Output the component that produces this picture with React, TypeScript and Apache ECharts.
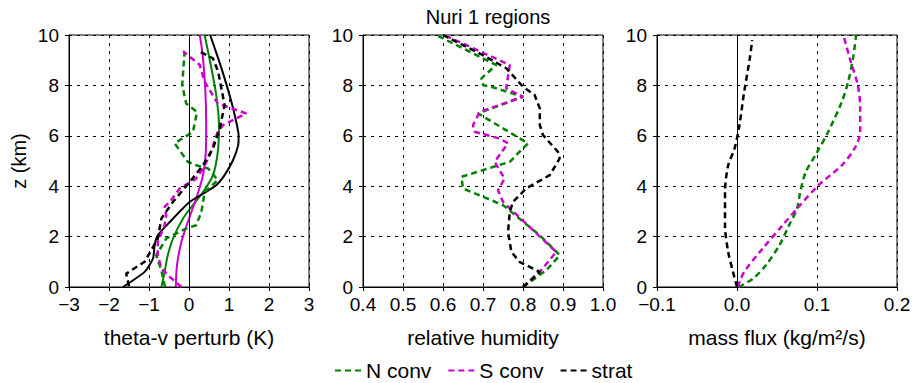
import React, { useEffect, useRef } from "react";
import * as echarts from "echarts";

// ---- Panel 1: theta-v perturbation (K) ----
const tvNSolidX = [-0.69, -0.61, -0.53, -0.4, -0.15, 0.1, 0.35, 0.6, 0.72, 0.75, 0.68, 0.56, 0.39];
const tvNSolidZ = [0, 0.6, 1.26, 1.92, 2.72, 3.25, 3.77, 4.44, 5.36, 6.42, 7.62, 8.68, 10];
const tvSSolidX = [-0.33, -0.3, -0.19, -0.03, 0.18, 0.35, 0.42, 0.43, 0.41, 0.35, 0.27];
const tvSSolidZ = [0, 0.86, 1.79, 2.58, 3.51, 4.44, 5.36, 6.42, 7.75, 9.07, 10];
const tvStratSolidX = [-1.65, -1.11, -0.9, -0.86, -0.78, -0.48, 0.02, 0.35, 0.68, 0.89, 1.1, 1.23, 1.24, 1.18, 1.06, 0.89, 0.73, 0.53];
const tvStratSolidZ = [0, 0.6, 1.13, 1.66, 2.05, 2.58, 3.38, 3.7, 4.04, 4.44, 5.03, 5.63, 6.03, 6.56, 7.35, 8.28, 9.07, 10];

const tvNX = [-0.6, -0.69, -0.82, -0.57, -0.07, 0.18, 0.31, 0.39, 0.72, 0.48, 0.18, -0.03, -0.36, 0.1, 0.2, -0.07, -0.17, -0.11];
const tvNZ = [0, 0.66, 1.26, 1.92, 2.32, 2.45, 2.98, 3.77, 4.24, 4.7, 4.83, 4.97, 5.7, 6.16, 6.95, 7.28, 8.01, 9.34];
const tvSX = [-0.19, -0.48, -0.69, -0.78, -0.78, -0.61, -0.57, -0.61, -0.48, -0.23, 0.18, 0.35, 0.52, 0.72, 0.85, 1.43, 0.72, 0.39, 0.27, -0.15];
const tvSZ = [0, 0.4, 0.73, 1.26, 1.79, 2.45, 2.85, 3.18, 3.38, 3.91, 4.3, 4.7, 5.23, 6.16, 6.42, 6.89, 7.28, 8.15, 8.81, 9.36];
const tvStratX = [-1.5, -1.57, -1.11, -0.78, -0.69, -0.4, 0.02, 0.35, 0.6, 0.77, 0.89, 0.73, 0.6, 0.27];
const tvStratZ = [0.03, 0.53, 1.0, 1.92, 2.72, 3.38, 4.17, 4.83, 5.5, 6.29, 7.22, 8.54, 9.07, 9.34];

// ---- Panel 2: relative humidity ----
const rhNX = [0.8, 0.858, 0.892, 0.842, 0.75, 0.65, 0.646, 0.767, 0.8125, 0.6875, 0.8, 0.72, 0.7, 0.696, 0.733, 0.583];
const rhNZ = [0, 0.66, 1.26, 2.05, 3.25, 3.91, 4.37, 4.97, 5.7, 6.89, 7.55, 7.95, 8.01, 8.28, 8.81, 10];
const rhSX = [0.8, 0.842, 0.883, 0.75, 0.7375, 0.754, 0.729, 0.7625, 0.742, 0.679, 0.675, 0.692, 0.8, 0.758, 0.767, 0.6125];
const rhSZ = [0, 0.6, 1.39, 3.38, 3.84, 4.3, 4.97, 5.7, 5.89, 6.16, 6.42, 6.95, 7.55, 7.88, 8.81, 9.93];
const rhStratX = [0.8, 0.842, 0.792, 0.771, 0.7625, 0.767, 0.775, 0.808, 0.867, 0.8917, 0.8875, 0.85, 0.842, 0.842, 0.829, 0.8, 0.758, 0.7, 0.6];
const rhStratZ = [0, 0.6, 0.99, 1.39, 2.19, 2.98, 3.38, 3.91, 4.44, 5.1, 5.36, 6.03, 6.42, 7.09, 7.62, 7.95, 8.68, 9.2, 10];

// ---- Panel 3: mass flux (kg/m2/s) ----
const mfNX = [0.002, 0.02, 0.036, 0.053, 0.065, 0.075, 0.079, 0.086, 0.098, 0.114, 0.131, 0.139, 0.145, 0.149];
const mfNZ = [0, 0.33, 0.86, 1.66, 2.45, 3.11, 3.77, 4.57, 5.23, 6.16, 7.35, 8.15, 9.07, 10];
const mfSX = [0.001, 0.009, 0.032, 0.057, 0.077, 0.102, 0.131, 0.147, 0.154, 0.154, 0.151, 0.141, 0.133];
const mfSZ = [0, 0.6, 1.52, 2.45, 3.18, 4.04, 4.83, 5.5, 6.16, 7.09, 8.01, 9.07, 10];
const mfStratX = [0, -0.005, -0.011, -0.015, -0.015, -0.011, -0.003, 0.003, 0.009, 0.016, 0.019];
const mfStratZ = [0, 0.6, 1.39, 2.45, 3.77, 4.83, 5.5, 6.42, 7.75, 9.07, 9.8];

const legendNames = ["N conv", "S conv", "strat"];
const titleText = "Nuri 1 regions";
const xNames = ["theta-v perturb (K)", "relative humidity", "mass flux (kg/m\u00B2/s)"];
const yName = "z (km)";

const GREEN = "#008000";
const MAGENTA = "#cc00cc";
const BLACK = "#000000";
const FONT = "'Liberation Sans', Arial, Helvetica, sans-serif";

const minus = (s: string) => s.replace("-", "\u2212");

export default function App() {
  const ref = useRef<HTMLDivElement>(null);
  useEffect(() => {
    if (!ref.current) return;
    const chart = echarts.init(ref.current, undefined, { renderer: "svg" });

    const lefts = [69, 363, 657];
    const grids = lefts.map((l) => ({
      left: l,
      top: 35,
      width: 240,
      height: 252,
      show: true,
      borderColor: BLACK,
      borderWidth: 1,
      backgroundColor: "transparent",
    }));

    const xRanges = [
      { min: -3, max: 3, interval: 1, fmt: (v: number) => minus(String(Math.round(v))) },
      { min: 0.4, max: 1.0, interval: 0.1, fmt: (v: number) => (Math.abs(v) < 1e-9 ? 0 : v).toFixed(1) },
      { min: -0.1, max: 0.2, interval: 0.1, fmt: (v: number) => minus((Math.abs(v) < 1e-9 ? 0 : v).toFixed(1)) },
    ];

    const splitLine = { show: true, lineStyle: { color: BLACK, width: 1, type: [3, 5] as any } };

    const xAxes = xRanges.map((r, i) => ({
      type: "value",
      gridIndex: i,
      min: r.min,
      max: r.max,
      interval: r.interval,
      name: xNames[i],
      nameLocation: "middle",
      nameGap: 40,
      nameTextStyle: { fontSize: 21, color: BLACK, fontFamily: FONT },
      axisLine: { show: true, onZero: false, lineStyle: { color: BLACK, width: 1 } },
      axisTick: { show: true, inside: false, length: 4, lineStyle: { color: BLACK } },
      axisLabel: { fontSize: 19, color: BLACK, margin: 8, fontFamily: FONT, formatter: r.fmt },
      splitLine,
    }));

    const yAxes = [0, 1, 2].map((i) => ({
      type: "value",
      gridIndex: i,
      min: 0,
      max: 10,
      interval: 2,
      name: i === 0 ? yName : "",
      nameLocation: "middle",
      nameGap: 40,
      nameTextStyle: { fontSize: 20, color: BLACK, fontFamily: FONT },
      axisLine: { show: true, onZero: false, lineStyle: { color: BLACK, width: 1 } },
      axisTick: { show: true, inside: false, length: 4, lineStyle: { color: BLACK } },
      axisLabel: { fontSize: 19, color: BLACK, margin: 10, fontFamily: FONT },
      splitLine,
    }));

    const mk = (
      name: string,
      xs: number[],
      zs: number[],
      color: string,
      dashed: boolean,
      g: number,
      smooth: number | boolean = false,
      zero = false
    ) => {
      const s: any = {
        type: "line",
        name,
        xAxisIndex: g,
        yAxisIndex: g,
        data: xs.map((x, k) => [x, zs[k]]),
        symbol: "none",
        showSymbol: false,
        smooth,
        clip: true,
        lineStyle: { color, width: dashed ? 2.5 : 2, type: dashed ? [6, 4] : "solid" },
        itemStyle: { color },
        z: dashed ? 3 : 2,
      };
      if (zero) {
        s.markLine = {
          silent: true,
          symbol: "none",
          label: { show: false },
          lineStyle: { color: BLACK, type: "solid", width: 1 },
          data: [{ xAxis: 0 }],
          animation: false,
        };
      }
      return s;
    };

    const series = [
      mk("N conv all", tvNSolidX, tvNSolidZ, GREEN, false, 0, 0.3, true),
      mk("S conv all", tvSSolidX, tvSSolidZ, MAGENTA, false, 0, 0.3),
      mk("strat all", tvStratSolidX, tvStratSolidZ, BLACK, false, 0, 0.2),
      mk(legendNames[0], tvNX, tvNZ, GREEN, true, 0),
      mk(legendNames[1], tvSX, tvSZ, MAGENTA, true, 0),
      mk(legendNames[2], tvStratX, tvStratZ, BLACK, true, 0),
      mk(legendNames[0], rhNX, rhNZ, GREEN, true, 1),
      mk(legendNames[1], rhSX, rhSZ, MAGENTA, true, 1),
      mk(legendNames[2], rhStratX, rhStratZ, BLACK, true, 1),
      mk(legendNames[2], mfStratX, mfStratZ, BLACK, true, 2, 0.3, true),
      mk(legendNames[0], mfNX, mfNZ, GREEN, true, 2, 0.3),
      mk(legendNames[1], mfSX, mfSZ, MAGENTA, true, 2, 0.3),
    ];

    chart.setOption({
      animation: false,
      backgroundColor: "#ffffff",
      textStyle: { fontFamily: FONT, color: BLACK },
      title: {
        text: titleText,
        left: 483,
        top: 2,
        textAlign: "center",
        textStyle: { fontSize: 20, fontWeight: "normal", color: BLACK, fontFamily: FONT },
      },
      legend: {
        data: legendNames,
        left: 329,
        top: 355,
        itemWidth: 26,
        itemHeight: 12,
        itemGap: 16,
        itemStyle: { opacity: 0 },
        textStyle: { fontSize: 21, color: BLACK, fontFamily: FONT },
        selectedMode: false,
      },
      grid: grids,
      xAxis: xAxes,
      yAxis: yAxes,
      series,
    });
    return () => chart.dispose();
  }, []);

  return (
    <div
      ref={ref}
      style={{ position: "fixed", left: 0, top: 0, width: 915, height: 383, background: "#fff" }}
    />
  );
}
